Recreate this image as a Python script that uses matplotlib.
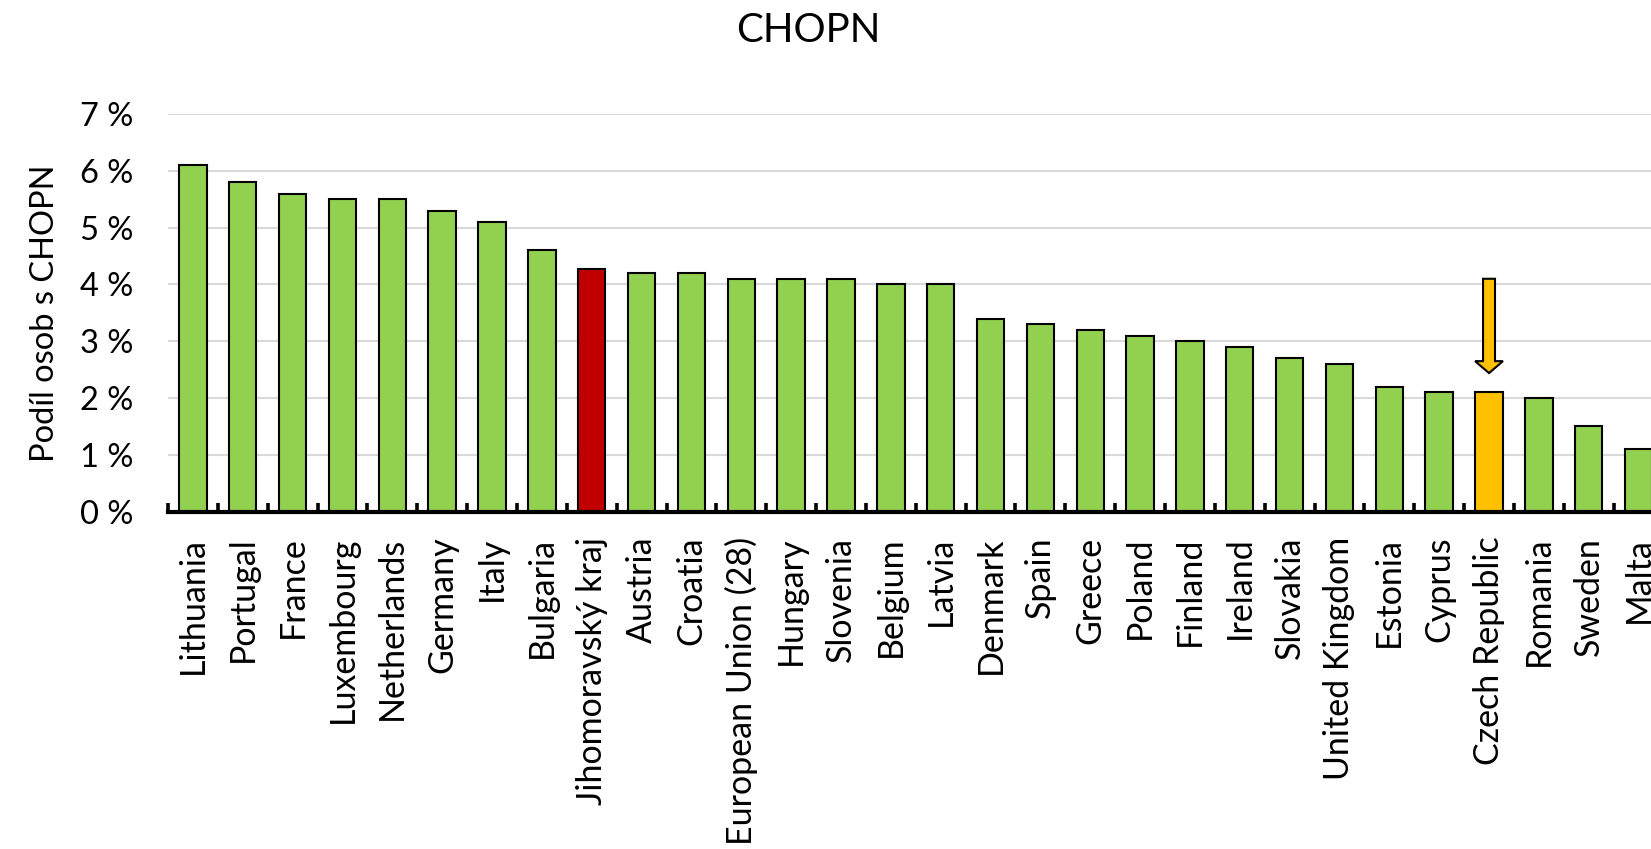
import numpy as np
import matplotlib.pyplot as plt
from matplotlib.ticker import FixedLocator, FuncFormatter

# data
countries = ['Lithuania', 'Portugal', 'France', 'Luxembourg', 'Netherlands', 'Germany',
             'Italy', 'Bulgaria', 'Jihomoravský kraj', 'Austria', 'Croatia',
             'European Union (28)', 'Hungary', 'Slovenia', 'Belgium', 'Latvia', 'Denmark',
             'Spain', 'Greece', 'Poland', 'Finland', 'Ireland', 'Slovakia', 'United Kingdom',
             'Estonia', 'Cyprus', 'Czech Republic', 'Romania', 'Sweden', 'Malta']
share = [6.1, 5.8, 5.6, 5.5, 5.5, 5.3, 5.1, 4.6, 4.27, 4.2, 4.2, 4.1, 4.1, 4.1, 4.0, 4.0,
         3.4, 3.3, 3.2, 3.1, 3.0, 2.9, 2.7, 2.6, 2.2, 2.1, 2.1, 2.0, 1.5, 1.1]
highlight_region = 'Jihomoravský kraj'
highlight_country = 'Czech Republic'

GREEN = '#92D050'
RED = '#C00000'
ORANGE = '#FFC000'

plt.rcParams['font.family'] = ['Lato', 'DejaVu Sans']

W, H = 1651, 849
fig = plt.figure(figsize=(W / 100, H / 100), dpi=100)

# axes placed in pixels: x=-0.5 at 168px, 49.85px per category, y 0..7 from 511.7px to 114px
step = 49.85
n = len(countries)
ax_left = 168 / W
ax_width = n * step / W
ax_bottom = (H - 511.7) / H
ax_height = (511.7 - 114) / H
ax = fig.add_axes([ax_left, ax_bottom, ax_width, ax_height])

x = np.arange(n)
colors = []
for c in countries:
    if c == highlight_region:
        colors.append(RED)
    elif c == highlight_country:
        colors.append(ORANGE)
    else:
        colors.append(GREEN)

ax.bar(x, share, width=0.55, color=colors, edgecolor='black', linewidth=1.5, zorder=3)

# arrow pointing to the Czech Republic bar
ci = countries.index(highlight_country)
top = 4.1
tip = share[ci] + 0.34
ax.arrow(ci, top, 0, tip - top, width=0.24, head_width=0.56, head_length=0.21,
         length_includes_head=True, fc=ORANGE, ec='black', lw=1.5, zorder=4)

ax.set_xlim(-0.5, n - 0.5)
ax.set_ylim(0, 7)

ax.set_yticks(np.arange(0, 8, 1))
ax.yaxis.set_major_formatter(FuncFormatter(lambda v, p: '%d %%' % v))
ax.tick_params(axis='y', length=0, pad=25, labelsize=23.5)
ax.grid(axis='y', color='#D9D9D9', linewidth=1.5, zorder=0)

ax.set_xticks(x)
ax.set_xticklabels(countries, rotation=90, va='top', ha='center')
ax.tick_params(axis='x', which='major', length=0, pad=18, labelsize=24.5)
ax.xaxis.set_minor_locator(FixedLocator(np.arange(-0.5, n, 1)))
ax.tick_params(axis='x', which='minor', direction='in', length=6.5, width=2.6, color='black')

for s in ['top', 'right', 'left']:
    ax.spines[s].set_visible(False)
ax.spines['bottom'].set_linewidth(3)
ax.spines['bottom'].set_zorder(5)

ax.set_ylabel('Podíl osob s CHOPN', fontsize=23.5, labelpad=14)
fig.text(808 / W, 1 - 30 / H, 'CHOPN', ha='center', va='center', fontsize=29)

fig.savefig('out.png', dpi=100)
